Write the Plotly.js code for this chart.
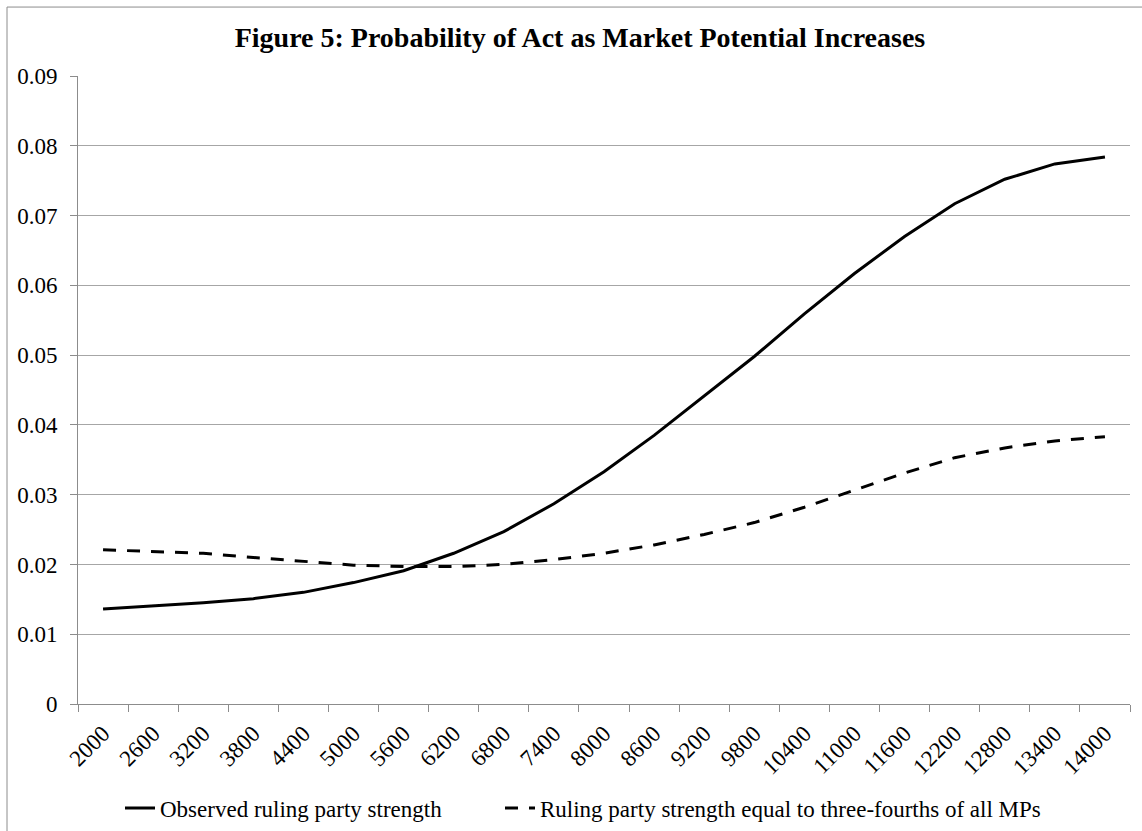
<!DOCTYPE html>
<html>
<head>
<meta charset="utf-8">
<script src="https://cdn.plot.ly/plotly-3.0.1.min.js"></script>
<style>html,body{margin:0;padding:0;background:#fff;}#chart{width:1142px;height:831px;}</style>
</head>
<body>
<div id="chart"></div>
<script>
const categories = ["2000","2600","3200","3800","4400","5000","5600","6200","6800","7400","8000","8600","9200","9800","10400","11000","11600","12200","12800","13400","14000"];
const observed = [0.0136,0.0140,0.0145,0.0151,0.0160,0.0174,0.0191,0.0216,0.0247,0.0287,0.0333,0.0385,0.0442,0.0498,0.0559,0.0617,0.0670,0.0717,0.0752,0.0774,0.0784];
const threeFourths = [0.0221,0.0219,0.0216,0.0210,0.0204,0.0199,0.0197,0.0197,0.0200,0.0207,0.0216,0.0228,0.0243,0.0260,0.0282,0.0306,0.0331,0.0353,0.0367,0.0377,0.0383];
const seriesNames = ["Observed ruling party strength","Ruling party strength equal to three-fourths of all MPs"];
const yTicks = [0,0.01,0.02,0.03,0.04,0.05,0.06,0.07,0.08,0.09];
const yTickText = ["0","0.01","0.02","0.03","0.04","0.05","0.06","0.07","0.08","0.09"];

const font = "Liberation Serif, Times New Roman, serif";
const traces = [
  {x: categories, y: observed, name: seriesNames[0], type: "scatter", mode: "lines",
   line: {color: "#000", width: 3}, legend: "legend"},
  {x: categories, y: threeFourths, name: seriesNames[1], type: "scatter", mode: "lines",
   line: {color: "#000", width: 3, dash: "13px,11px"}, legend: "legend2"}
];
const legendBase = {orientation: "h", xref: "container", yref: "container", xanchor: "left",
  y: 1 - 808/831, yanchor: "middle", font: {family: font, size: 23, color: "#000"},
  itemwidth: 30, bgcolor: "rgba(0,0,0,0)", borderwidth: 0};
const layout = {
  width: 1142, height: 831,
  margin: {l: 78, r: 12, t: 76, b: 126.5, pad: 0},
  paper_bgcolor: "#fff", plot_bgcolor: "#fff",
  font: {family: font, color: "#000", size: 20},
  title: {text: "<b>Figure 5: Probability of Act as Market Potential Increases</b>",
          font: {family: font, size: 28, color: "#000"},
          x: (580-78)/1052, xref: "paper", xanchor: "center", y: 1 - 37/831, yanchor: "middle",
          automargin: false},
  xaxis: {type: "category", range: [-0.5, 20.5], tickson: "boundaries", automargin: false,
          ticks: "outside", ticklen: 7, tickcolor: "#8c8c8c", tickwidth: 1,
          showline: true, linecolor: "#8c8c8c", linewidth: 1, ticklabelstandoff: 6,
          showgrid: false, tickangle: -45, tickfont: {family: font, size: 23, color: "#000"},
          zeroline: false, fixedrange: true},
  yaxis: {range: [0, 0.09], tickvals: yTicks, ticktext: yTickText, automargin: false,
          ticks: "outside", ticklen: 7, tickcolor: "#8c8c8c", tickwidth: 1,
          showline: true, linecolor: "#8c8c8c", linewidth: 1, ticklabelstandoff: 8,
          showgrid: true, gridcolor: "#a6a6a6", gridwidth: 1, zeroline: false,
          tickfont: {family: font, size: 23, color: "#000"}, fixedrange: true},
  showlegend: true,
  legend: Object.assign({}, legendBase, {x: 120/1142}),
  legend2: Object.assign({}, legendBase, {x: 500/1142}),
  shapes: [{type: "rect", xref: "paper", yref: "paper",
            x0: (7-78)/1052, x1: (1150-78)/1052, y0: (704.5-840)/628.5, y1: (704.5-7)/628.5,
            line: {color: "#8c8c8c", width: 1}, fillcolor: "rgba(0,0,0,0)", layer: "below"}]
};
Plotly.newPlot("chart", traces, layout, {displayModeBar: false, staticPlot: true});
</script>
</body>
</html>
